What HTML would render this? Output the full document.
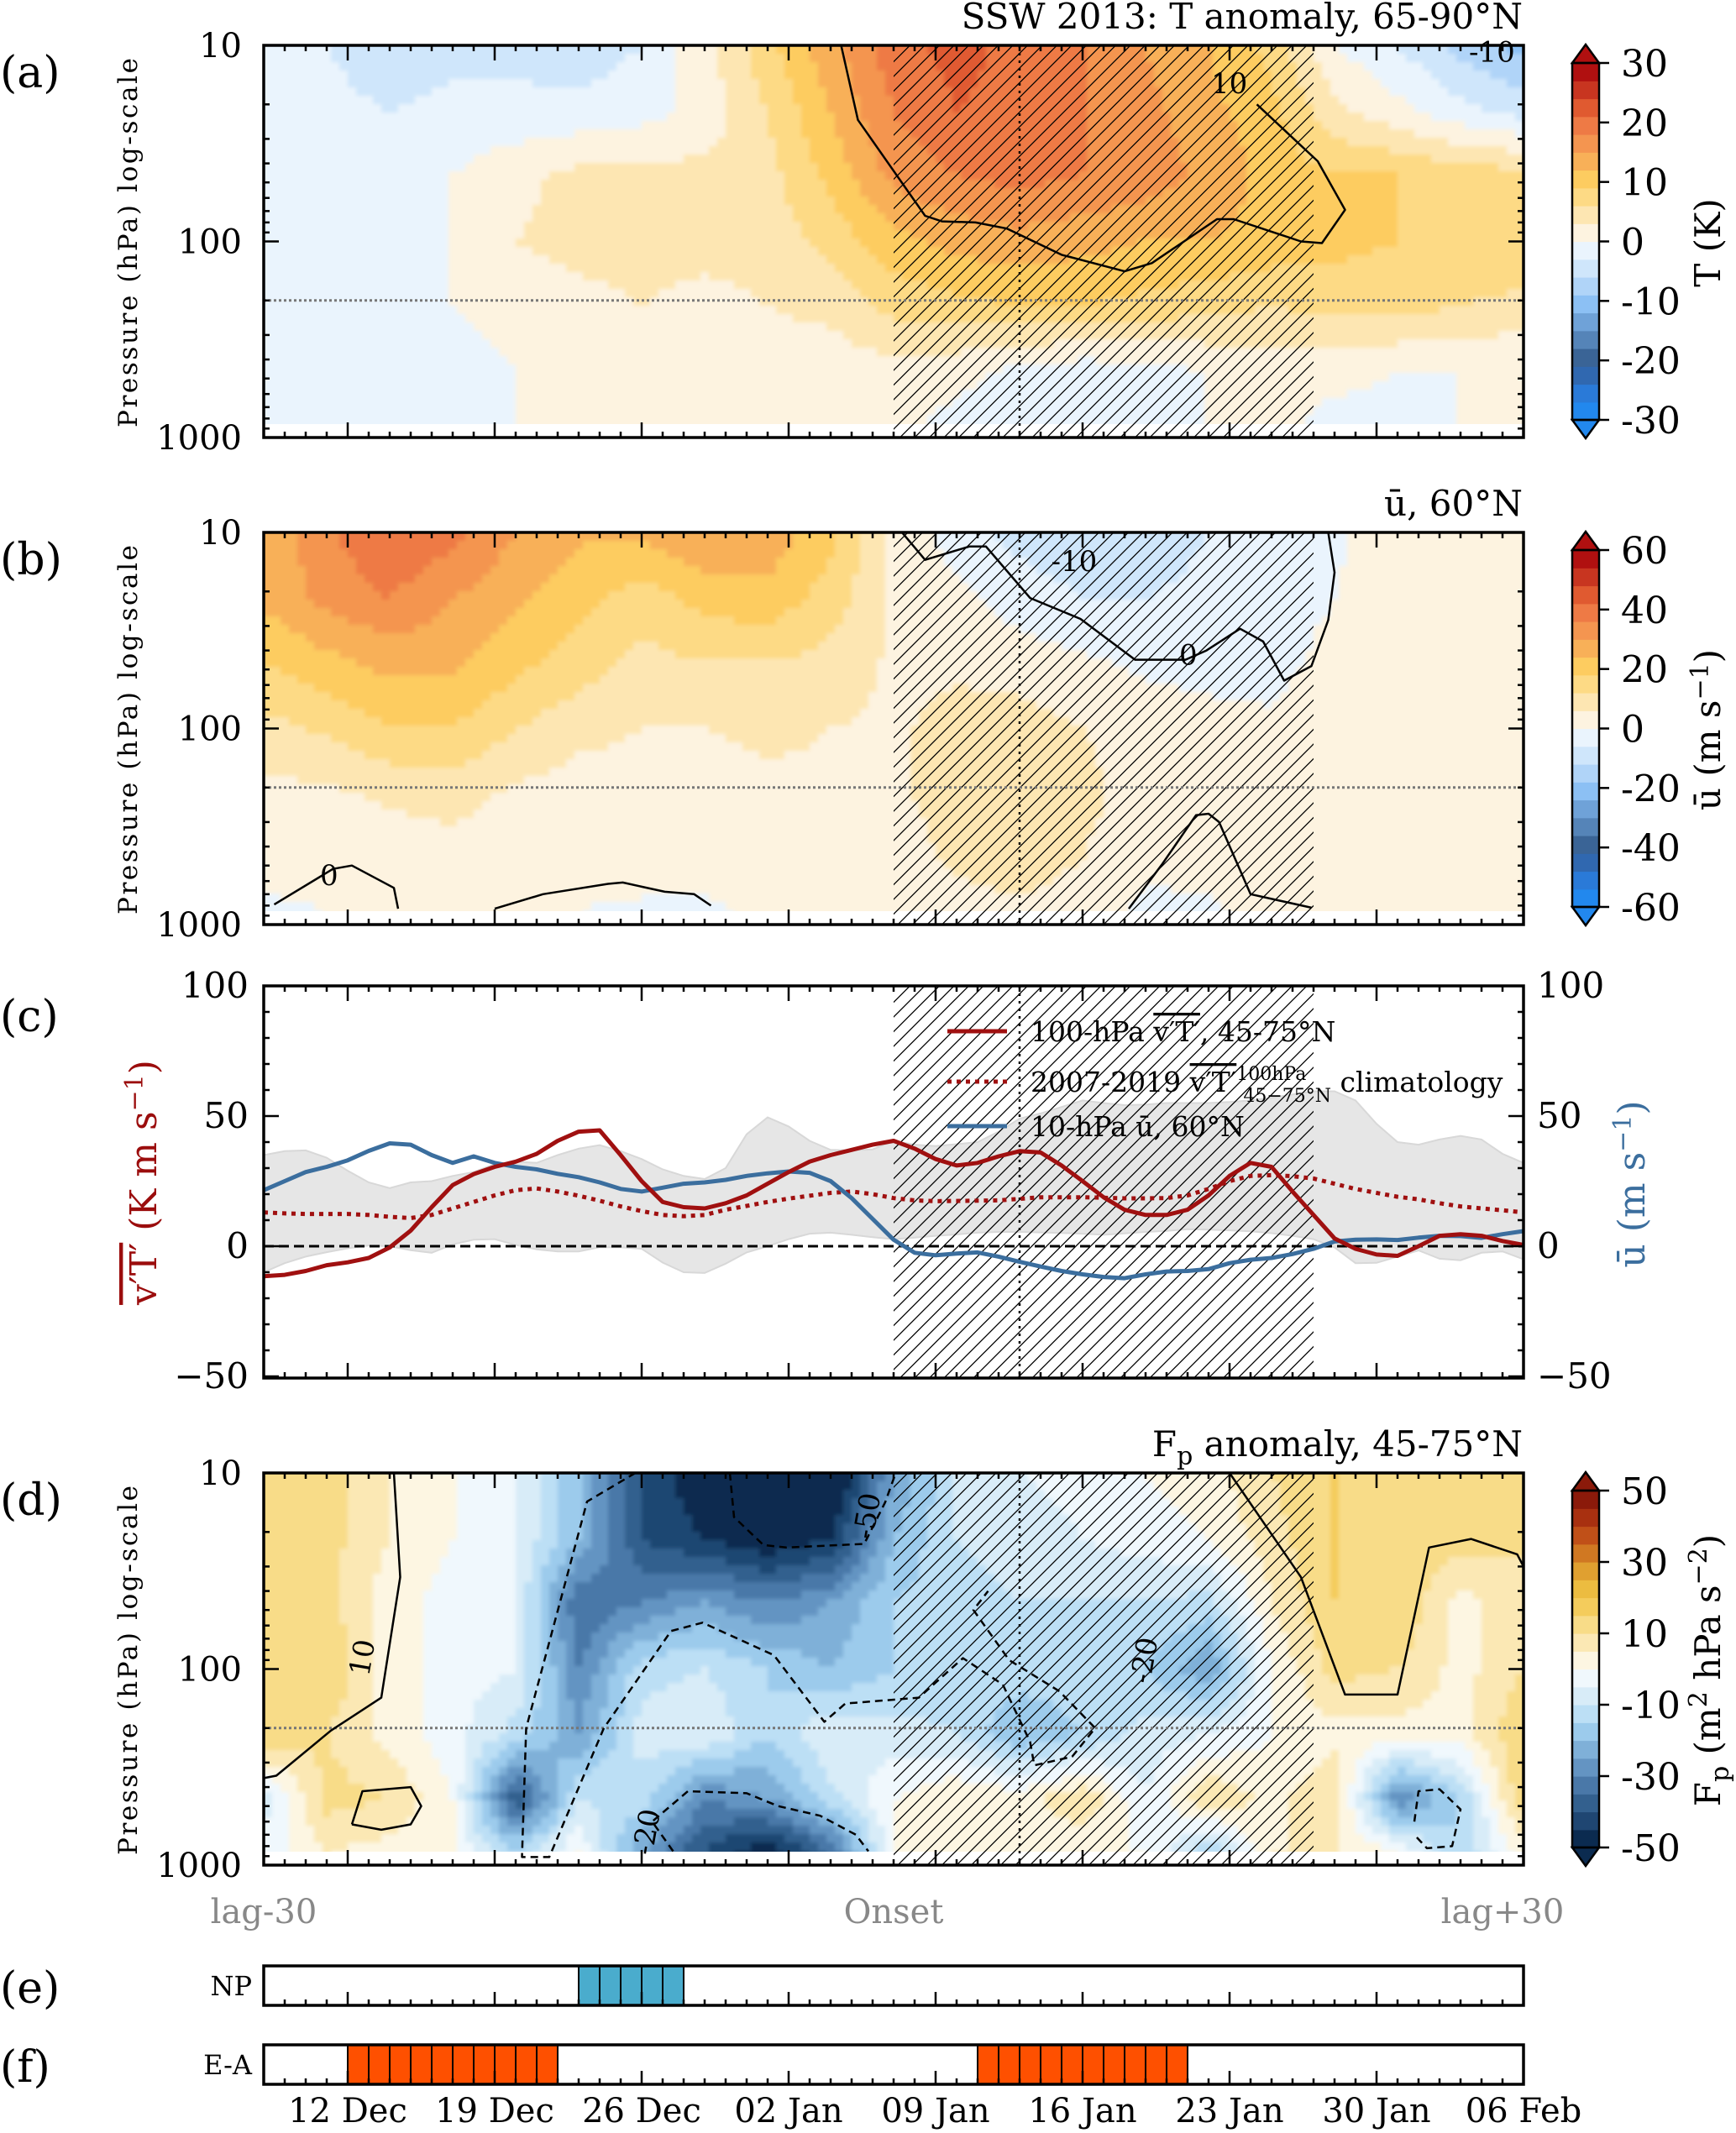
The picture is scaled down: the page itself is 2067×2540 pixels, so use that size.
<!DOCTYPE html>
<html>
<head>
<meta charset="utf-8">
<style>
html,body{margin:0;padding:0;background:#fff;}
svg{display:block;}
text{font-family:"DejaVu Serif","Liberation Serif",serif;}
</style>
</head>
<body>
<svg id="chart" xmlns="http://www.w3.org/2000/svg" width="2067" height="2540" viewBox="0 0 2067 2540">
  <defs>
    <pattern id="hatch" patternUnits="userSpaceOnUse" width="17.5" height="17.5">
      <path d="M-4.4,4.4 L4.4,-4.4 M0,17.5 L17.5,0 M13.1,21.9 L21.9,13.1" stroke="#000" stroke-width="1.3"/>
    </pattern>
    <filter id="blurA" filterUnits="userSpaceOnUse" x="0" y="0" width="2067" height="2540"><feGaussianBlur stdDeviation="2.5"/></filter>
    <filter id="blurD" filterUnits="userSpaceOnUse" x="0" y="0" width="2067" height="2540"><feGaussianBlur stdDeviation="2.5"/></filter>
  </defs>
</svg>
<script>
// ---------------- DATA ----------------
const fieldLags = [-30,-27,-24,-21,-18,-15,-12,-9,-6,-3,0,3,6,9,12,15,18,21,24,27,30];
const fieldLevels = [10,22,46,100,215,460,850];
// Panel (a) T anomaly (K), rows = fieldLevels
const tRow10  = [-2,-3,-5,-4,-4,-5,-3,2,8,14,20,22,20,18,15,12,8,0,-3,-7,-10];
const tRow22  = [-1,-2,-3,-2,-2,-2,-1,1,6,12,18,21,20,18,16,13,10,4,1,-2,-4];
const tRow46  = [-1,-1,-1,0,2,4,4,4,5,10,16,18,19,18,17,14,11,9,9,8,7];
const tRow100 = [0,-1,-1,0,3,4,4,4,4,7,11,13,14,13,12,12,11,10,9,9,9];
const tRow215 = [-1,-1,-1,0,1,2,3,2,3,4,7,8,9,9,8,7,6,7,7,6,5];
const tRow460 = [-1,-1,-1,-1,0,0,1,1,1,1,2,1,-1,-2,-1,0,1,1,0,0,0];
const tRow850 = [-1,-1,-1,-1,0,1,0,1,0,0,1,-1,-1,-1,-1,0,1,-1,-1,0,1];
// Panel (b) zonal wind u (m/s)
const uRow10  = [25,35,42,38,30,25,25,30,28,20,5,-3,-8,-10,-8,-6,-4,-1,3,3,3];
const uRow22  = [25,32,36,30,25,20,15,20,22,15,5,2,-3,-6,-6,-5,-3,0,3,3,3];
const uRow46  = [18,22,26,25,20,15,10,12,12,10,5,5,3,1,-1,-2,-2,2,3,4,4];
const uRow100 = [10,13,18,18,12,8,6,6,7,6,5,8,9,6,3,2,1,4,5,5,5];
const uRow215 = [4,5,7,8,5,3,3,4,5,5,5,9,10,8,3,2,3,5,6,5,4];
const uRow460 = [2,3,3,4,3,2,3,3,4,3,3,7,9,6,1,2,4,5,5,3,2];
const uRow850 = [-1,0,1,1,1,0,-1,-1,1,1,2,4,5,3,-1,-1,2,3,3,2,0];
// Panel (d) Fp anomaly
const fRow10  = [15,12,5,0,-5,-20,-40,-50,-55,-55,-25,-10,-5,-3,0,3,10,15,12,12,10];
const fRow22  = [15,12,5,0,-5,-20,-40,-45,-50,-45,-20,-10,-8,-5,-3,0,8,15,12,12,10];
const fRow46  = [15,12,2,-2,-5,-35,-30,-25,-30,-25,-15,-12,-10,-10,-10,-12,5,15,15,3,10];
const fRow100 = [15,15,2,-2,-5,-30,-12,-10,-15,-20,-15,-12,-12,-12,-15,-25,0,12,10,3,10];
const fRow215 = [15,10,3,-3,-12,-25,-8,-5,-15,-5,-8,-10,-20,-15,-8,-5,0,3,3,3,15];
const fRow460 = [-8,12,10,0,-40,-10,-12,-30,-25,-12,0,5,3,10,-5,10,3,10,-30,-15,15];
const fRow850 = [-3,5,3,0,-15,0,-25,-40,-50,-35,0,3,0,0,0,-15,5,5,0,-15,3];
// Panel (c) daily series, lag -30..30
const dayLags = [];
for (let d=-30; d<=30; d++) dayLags.push(d);
const vtSeries = [-11.5,-11,-9.5,-7.3,-6.2,-4.5,-0.5,6,15,23.5,27.7,30.5,32.5,35.5,40.5,44,44.5,35,25,17,15,14.5,16.5,19.5,24,28.5,32.5,35,37,39,40.5,37.5,33.5,31,32,34.5,36.5,36,31,25,18.8,14,12,12,14,19.5,27,32,30.5,21,12,3,-1,-3.2,-3.7,0,4,4.6,4,2,0.5];
const uSeries = [21.5,25,28.5,30.5,33,36.6,39.5,39,35,32,34.5,32,30.5,29.5,27.8,26.5,24.5,22,21,22.5,24,24.5,25.5,27,28,28.7,28.2,25,18.5,10.5,2.5,-2.5,-3.5,-2.8,-2.4,-4,-6,-7.8,-9.5,-10.8,-11.8,-12.3,-10.8,-9.7,-9.5,-8.8,-6.5,-5.2,-4.5,-3,-1,1.8,2.5,2.6,2.4,3.3,4,3.9,3.2,4.6,5.8];
const climSeries = [13,12.6,12.4,12.4,12.4,12,11.3,10.8,12,14.5,17,19.5,21.5,22.2,21,19.4,17.5,15.3,13.5,12,11.5,12,14,15.5,17,18.3,19.4,20.5,21,20,18.5,17.6,17.3,17.4,17.5,17.6,18.2,18.8,18.8,18.8,18.6,18.4,18.4,18.5,19.5,22,25,27,27.3,26.9,26,24,22,20.5,19,18,16.5,15.3,14.5,13.8,13];
const climUpper = [35,36.5,36.8,34,29,24.5,22.3,24.5,25,27,28.5,31.5,32.5,32,35,37.5,38.8,36.5,33.5,29.5,27,25.8,30,43,49.5,46,40.5,37,36.8,37.2,40.5,39,38.5,39.2,40,44,49,51,53.5,56,55,54.2,54.4,55,55,55,55.4,56,57,58.3,59.5,59.5,56,47,40,39,41,42.4,41,35.5,32];
const climLower = [-10,-6.5,-4,-2.3,-0.8,0.3,0,-1.5,-2.5,0.7,2.5,2.7,0.5,-1.2,-2,-2,-0.4,-0.4,-1,-6.3,-10,-10.3,-6.7,-2.4,0,2.7,4.8,5.2,4.4,3.5,2.7,3.3,4,4.5,5.2,5.5,5.5,5.3,5.1,4.8,4.4,4.9,5.5,5.9,6.5,6.4,6.1,5.7,5,4,2.7,-0.5,-6.5,-6.4,-4,-1.6,-4.8,-5.4,-2.5,-2,-5];
// Panels (e)/(f) regime days
const npDays = [-15,-14,-13,-12,-11];
const eaDays = [-26,-25,-24,-23,-22,-21,-20,-19,-18,-17,4,5,6,7,8,9,10,11,12,13];
const dateTickLags = [-26,-19,-12,-5,2,9,16,23,30];
const dateTickLabels = ['12 Dec','19 Dec','26 Dec','02 Jan','09 Jan','16 Jan','23 Jan','30 Jan','06 Feb'];
const eventStart = 0, eventEnd = 20, centralLag = 6;
const cbTicksT = [30,20,10,0,-10,-20,-30];
const cbTicksU = [60,40,20,0,-20,-40,-60];
const cbTicksF = [50,30,10,-10,-30,-50];
const cTicks = [100,50,0,-50];

// ---------------- HELPERS ----------------
const NS='http://www.w3.org/2000/svg';
const svg=document.getElementById('chart');
function mk(tag, attrs, name, parent){
  const e=document.createElementNS(NS,tag);
  for(const k in attrs) e.setAttribute(k,attrs[k]);
  
  
  (parent||svg).appendChild(e);
  return e;
}
function txt(str, attrs, name, parent){ const t=mk('text',attrs,name,parent); t.textContent=str; return t; }

const L=314, R=1814, H=467;
const X = lag => L + 25*(lag+30);
const Yp = (p, top) => top + (Math.log10(p)-1)/2*H;
const tops = {a:54, b:634, c:1174, d:1754};
const Yc = v => 1484 - v*3.1;

const tBands = ['#2288ee','#2a7ad8','#3068b0','#3a6496','#5584b8','#6fa2d8','#8cc0f4','#b0d4f8','#cfe6fb','#eaf4fd','#fdf3e0','#fde6b2','#fdda85','#fdcc60','#f8b058','#f49550','#ee7a45','#e05a30','#c83520','#b01010'];
const fBands = ['#0b2b50','#1f4672','#33608e','#4a78a8','#6494c2','#7fb0d8','#9ccbec','#bcdff5','#d8ecf8','#f0f8fd','#fdf6e2','#fbe8b4','#f8dc88','#f4cc5c','#ecbc40','#e0a030','#d07822','#c05018','#a83010','#8b1a0a'];
function bandColor(bands, vmax, v){
  const n=bands.length, step=2*vmax/n;
  let i=Math.floor((v+vmax)/step);
  if(i<0)i=0; if(i>n-1)i=n-1;
  return bands[i];
}
function interp1(arr, v){
  if(v<=arr[0]) return [0,0];
  if(v>=arr[arr.length-1]) return [arr.length-2,1];
  for(let i=0;i<arr.length-1;i++){ if(v<=arr[i+1]) return [i,(v-arr[i])/(arr[i+1]-arr[i])]; }
  return [arr.length-2,1];
}
function sampleField(rows, lag, lp){
  const logs=fieldLevels.map(p=>Math.log10(p));
  const [ci,cf]=interp1(fieldLags,lag);
  const [ri,rf]=interp1(logs,lp);
  const a=rows[ri][ci]*(1-cf)+rows[ri][ci+1]*cf;
  const b=rows[ri+1][ci]*(1-cf)+rows[ri+1][ci+1]*cf;
  return a*(1-rf)+b*rf;
}

function drawField(rows, top, bands, vmax, filt, name){
  const clipId='clip-'+name;
  const cp=mk('clipPath',{id:clipId},'clip-'+name);
  mk('rect',{x:L,y:top,width:R-L,height:451},'clip-rect',cp);
  const outer=mk('g',{'clip-path':'url(#'+clipId+')'},name);
  const g=mk('g',{filter:'url(#'+filt+')'},name+'-cells',outer);
  const cw=10, chh=10;
  for(let y=top-10; y<top+460; y+=chh){
    const lp=1+((y+chh/2)-top)/H*2;
    let runStart=L-10, runColor=null;
    for(let x=L-10; x<=R+10; x+=cw){
      const lag=(x+cw/2-L)/25-30;
      const c=bandColor(bands,vmax,sampleField(rows,lag,lp));
      if(runColor===null){runColor=c;runStart=x;}
      else if(c!==runColor){
        mk('rect',{x:runStart,y:y,width:x-runStart+0.6,height:chh+0.6,fill:runColor},'heatmap-cell',g);
        runColor=c; runStart=x;
      }
    }
    mk('rect',{x:runStart,y:y,width:R+20-runStart,height:chh+0.6,fill:runColor},'heatmap-cell',g);
  }
}

function hatchAndRefs(top, logPanel){
  mk('rect',{x:X(eventStart),y:top,width:X(eventEnd)-X(eventStart),height:H,fill:'url(#hatch)'},'event-hatch');
  mk('line',{x1:X(centralLag),y1:top,x2:X(centralLag),y2:top+H,stroke:'#000','stroke-width':2.5,'stroke-dasharray':'3,6'},'central-date-line');
  if(logPanel) mk('line',{x1:L,y1:Yp(200,top),x2:R,y2:Yp(200,top),stroke:'#777','stroke-width':3,'stroke-dasharray':'3,3'},'tropopause-200hpa-line');
}

function frame(top){
  mk('rect',{x:L,y:top,width:R-L,height:H,fill:'none',stroke:'#000','stroke-width':3.5},'plot-frame');
  for(let d=-30; d<=30; d++){
    const major=dateTickLags.includes(d);
    const len=major?18:7;
    mk('line',{x1:X(d),y1:top+H,x2:X(d),y2:top+H-len,stroke:'#000','stroke-width':2.5},'x-tick');
    mk('line',{x1:X(d),y1:top,x2:X(d),y2:top+len,stroke:'#000','stroke-width':2.5},'x-tick-top');
  }
}
function logTicks(top){
  for(let dec=10; dec<=1000; dec*=10){
    for(let m=1;m<=9;m++){
      const p=dec*m; if(p>1000) break;
      const major=(m===1), len=major?18:7;
      const y=Yp(p,top);
      mk('line',{x1:L,y1:y,x2:L+len,y2:y,stroke:'#000','stroke-width':2.5},'y-tick');
      mk('line',{x1:R,y1:y,x2:R-len,y2:y,stroke:'#000','stroke-width':2.5},'y-tick-right');
    }
  }
  [10,100,1000].forEach(p=>{
    txt(String(p),{x:288,y:Yp(p,top)+14,'font-size':40,'text-anchor':'end'},'y-tick-label');
  });
  txt('Pressure (hPa) log-scale',{x:0,y:0,transform:'translate(163,'+(top+235)+') rotate(-90)','font-size':31,'text-anchor':'middle',textLength:440,'lengthAdjust':'spacing'},'y-axis-title');
}
function contour(pts, top, dashed, name){
  const d=pts.map((q,i)=>(i?'L':'M')+X(q[0]).toFixed(1)+','+Yp(q[1],top).toFixed(1)).join(' ');
  mk('path',{d:d,fill:'none',stroke:'#000','stroke-width':2.5,'stroke-dasharray':dashed?'9,6':'none','stroke-linejoin':'round'},name);
}
function colorbar(top, bands, vmax, ticks, label, name){
  const x0=1872,w=32,y0=top+21,y1=top+446,n=bands.length,bh=(y1-y0)/n;
  const g=mk('g',{},name);
  bands.forEach((c,i)=>{
    mk('rect',{x:x0,y:y1-(i+1)*bh,width:w,height:bh+0.6,fill:c},'colorbar-band',g);
  });
  mk('path',{d:`M${x0},${y0} L${x0+w/2},${top-1} L${x0+w},${y0} Z`,fill:bands[n-1],stroke:'#000','stroke-width':2.5},'colorbar-extend-max',g);
  mk('path',{d:`M${x0},${y1} L${x0+w/2},${top+468} L${x0+w},${y1} Z`,fill:bands[0],stroke:'#000','stroke-width':2.5},'colorbar-extend-min',g);
  mk('rect',{x:x0,y:y0,width:w,height:y1-y0,fill:'none',stroke:'#000','stroke-width':2.5},'colorbar-outline',g);
  ticks.forEach(t=>{
    const y=y0+(vmax-t)/(2*vmax)*(y1-y0);
    mk('line',{x1:x0+w,y1:y,x2:x0+w+12,y2:y,stroke:'#000','stroke-width':2.5},'colorbar-tick',g);
    txt(String(t),{x:1930,y:y+16,'font-size':44},'colorbar-tick-label',g);
  });
  const lt=mk('text',{x:0,y:0,transform:`translate(2048,${top+235}) rotate(-90)`,'font-size':42,'text-anchor':'middle'},'colorbar-title',g);
  lt.innerHTML=label;
}

// ---------------- PANEL A ----------------
const ta=tops.a;
drawField([tRow10,tRow22,tRow46,tRow100,tRow215,tRow460,tRow850],ta,tBands,30,'blurA','t-anomaly-field');
hatchAndRefs(ta,true);
contour([[-2.5,10],[-1.7,24],[1.5,74],[2.3,79],[3.9,80],[5.4,86],[8,117],[11,142],[12.3,129],[15.4,77],[16.2,77],[19.4,100],[20.4,102],[21.5,69],[20.2,39],[17.3,20]],ta,false,'t-contour-10');
txt('10',{x:X(16)-22,y:Yp(15.3,ta)+14,'font-size':34},'t-contour-label');
txt('-10',{x:X(28.2)-20,y:Yp(11,ta)+10,'font-size':34},'t-contour-label');
frame(ta); logTicks(ta);
txt('SSW 2013: T anomaly, 65-90°N',{x:1813,y:34,'font-size':42,'text-anchor':'end'},'panel-a-title');
txt('(a)',{x:0,y:104,'font-size':52},'panel-a-label');
colorbar(ta,tBands,30,cbTicksT,'T (K)','t-colorbar');

// ---------------- PANEL B ----------------
const tb=tops.b;
drawField([uRow10,uRow22,uRow46,uRow100,uRow215,uRow460,uRow850],tb,tBands,60,'blurA','u-wind-field');
hatchAndRefs(tb,true);
contour([[0.4,10],[1.5,13.8],[3.6,11.8],[4.4,11.8],[6.5,21.6],[8.9,27.6],[11.5,44.6],[13.9,44.6],[14.9,40],[16.5,31],[17.6,36],[18.6,57],[19.9,48],[20.7,28],[21,16],[20.7,10]],tb,false,'u-contour-0-upper');
contour([[11.2,830],[12.8,490],[14.4,277],[15,272],[15.5,300],[17,700],[19.9,820]],tb,false,'u-contour-0-lower');
contour([[-29.5,790],[-26.7,520],[-25.8,500],[-23.8,650],[-23.6,830]],tb,false,'u-contour-0-left');
contour([[-19,830],[-16.7,700],[-13.6,620],[-12.9,610],[-10.9,680],[-9.5,700],[-8.7,800]],tb,false,'u-contour-0-mid');
txt('-10',{x:X(7.5),y:Yp(14,tb)+12,'font-size':34},'u-contour-label');
txt('0',{x:X(14)-10,y:Yp(42,tb)+12,'font-size':34},'u-contour-label');
txt('0',{x:X(-27)-8,y:Yp(560,tb)+12,'font-size':34},'u-contour-label');
frame(tb); logTicks(tb);
txt('ū, 60°N',{x:1813,y:614,'font-size':42,'text-anchor':'end'},'panel-b-title');
txt('(b)',{x:0,y:684,'font-size':52},'panel-b-label');
colorbar(tb,tBands,60,cbTicksU,'ū (m s<tspan dy="-14" font-size="30">−1</tspan><tspan dy="14">)</tspan>','u-colorbar');

// ---------------- PANEL C ----------------
const tc=tops.c;
const bandPath = dayLags.map((d,i)=>(i?'L':'M')+X(d)+','+Yc(climUpper[i]).toFixed(1)).join(' ') + ' ' +
  dayLags.slice().reverse().map((d,j)=>'L'+X(d)+','+Yc(climLower[dayLags.length-1-j]).toFixed(1)).join(' ')+' Z';
mk('path',{d:bandPath,fill:'#e6e6e6',stroke:'#d8d8d8','stroke-width':2},'climatology-spread-band');
mk('line',{x1:L,y1:Yc(0),x2:R,y2:Yc(0),stroke:'#000','stroke-width':3,'stroke-dasharray':'12,6'},'zero-line');
hatchAndRefs(tc,false);
function linePath(vals){ return dayLags.map((d,i)=>(i?'L':'M')+X(d)+','+Yc(vals[i]).toFixed(1)).join(' '); }
mk('path',{d:linePath(climSeries),fill:'none',stroke:'#a01010','stroke-width':5,'stroke-dasharray':'5,6'},'vt-climatology-line');
mk('path',{d:linePath(uSeries),fill:'none',stroke:'#3b6e9e','stroke-width':5,'stroke-linejoin':'round'},'u10-line');
mk('path',{d:linePath(vtSeries),fill:'none',stroke:'#a01010','stroke-width':5,'stroke-linejoin':'round'},'vt100-line');
frame(tc);
for(let v=-50; v<=100; v+=10){
  const major=(v%50===0), len=major?18:7;
  mk('line',{x1:L,y1:Yc(v),x2:L+len,y2:Yc(v),stroke:'#000','stroke-width':2.5},'y-tick');
  mk('line',{x1:R,y1:Yc(v),x2:R-len,y2:Yc(v),stroke:'#000','stroke-width':2.5},'y-tick-right');
}
cTicks.forEach(v=>{
  const s = v<0 ? '−'+Math.abs(v) : String(v);
  txt(s,{x:296,y:Yc(v)+14,'font-size':42,'text-anchor':'end'},'y-tick-label-left');
  txt(s,{x:1830,y:Yc(v)+14,'font-size':42},'y-tick-label-right');
});
const yl=mk('text',{x:0,y:0,transform:'translate(186,1408) rotate(-90)','font-size':44,'text-anchor':'middle',fill:'#9b0d0d'},'y-axis-title-left');
yl.innerHTML='<tspan text-decoration="overline">v′T′</tspan> (K m s<tspan dy="-16" font-size="30">−1</tspan><tspan dy="16">)</tspan>';
const yr=mk('text',{x:0,y:0,transform:'translate(1958,1410) rotate(-90)','font-size':44,'text-anchor':'middle',fill:'#3b6e9e'},'y-axis-title-right');
yr.innerHTML='ū (m s<tspan dy="-16" font-size="30">−1</tspan><tspan dy="16">)</tspan>';
const lg=mk('g',{},'legend');
mk('line',{x1:1128,y1:1228,x2:1199,y2:1228,stroke:'#a01010','stroke-width':5},'legend-swatch-vt',lg);
mk('line',{x1:1128,y1:1288,x2:1199,y2:1288,stroke:'#a01010','stroke-width':5,'stroke-dasharray':'5,6'},'legend-swatch-clim',lg);
mk('line',{x1:1128,y1:1341,x2:1199,y2:1341,stroke:'#3b6e9e','stroke-width':5},'legend-swatch-u',lg);
const l1=mk('text',{x:1227,y:1240,'font-size':33},'legend-entry-vt',lg);
l1.innerHTML='100-hPa <tspan text-decoration="overline">v′T′</tspan>, 45-75°N';
const l2=mk('text',{x:1227,y:1300,'font-size':33},'legend-entry-clim',lg);
l2.innerHTML='2007-2019 <tspan text-decoration="overline">v′T′</tspan><tspan dy="-14" font-size="22">100hPa</tspan><tspan dx="-75" dy="26" font-size="22">45−75°N</tspan><tspan dy="-12"> climatology</tspan>';
const l3=mk('text',{x:1227,y:1353,'font-size':33},'legend-entry-u',lg);
l3.innerHTML='10-hPa ū, 60°N';
txt('(c)',{x:0,y:1228,'font-size':52},'panel-c-label');

// ---------------- PANEL D ----------------
const td=tops.d;
drawField([fRow10,fRow22,fRow46,fRow100,fRow215,fRow460,fRow850],td,fBands,50,'blurD','fp-anomaly-field');
hatchAndRefs(td,true);
contour([[-7.8,10],[-7.6,16.8],[-6.2,23.3],[-5.1,24],[-1.4,23],[-0.4,14.1],[0.1,10]],td,true,'fp-contour-neg50');
contour([[-23.8,10],[-23.5,34],[-24.4,140],[-26.8,206],[-29.4,350],[-30,360]],td,false,'fp-contour-10-left');
contour([[16,10],[19.4,34],[21.5,135],[24,135],[25.5,24],[27.5,21.7],[29.7,26],[30,30]],td,false,'fp-contour-10-right');
contour([[-12.3,10],[-14.6,14],[-17.5,200],[-17.7,910],[-16.4,910],[-13.8,200],[-10.6,64],[-9.1,58],[-5.7,85],[-3.3,186],[-2.3,150],[1.2,140],[3.3,88],[5.2,120],[6.5,235],[6.7,310],[8.5,280],[9.6,200],[7.9,130],[5.5,90],[3.8,50],[4.5,40]],td,true,'fp-contour-neg20');
contour([[-10.5,850],[-11.5,600],[-9.8,420],[-7,430],[-5.5,500],[-3.5,560],[-1.8,700],[-1.2,850]],td,true,'fp-contour-neg20-bottom');
contour([[24.8,600],[25,420],[26,410],[27,520],[26.6,800],[25.4,820],[24.8,700]],td,true,'fp-contour-neg20-right');
contour([[-25.8,620],[-25.3,420],[-23,400],[-22.5,500],[-23,620],[-24.4,660],[-25.8,620]],td,false,'fp-contour-10-blob');
txt('10',{x:X(-25),y:Yp(110,td),'font-size':34,transform:`rotate(-80 ${X(-25)} ${Yp(110,td)})`},'fp-contour-label');
txt('-20',{x:X(12.2),y:Yp(120,td),'font-size':34,transform:`rotate(-80 ${X(12.2)} ${Yp(120,td)})`},'fp-contour-label');
txt('-20',{x:X(-11.5),y:Yp(900,td),'font-size':34,transform:`rotate(-80 ${X(-11.5)} ${Yp(900,td)})`},'fp-contour-label');
txt('-50',{x:X(-1),y:Yp(22,td),'font-size':34,transform:`rotate(-80 ${X(-1)} ${Yp(22,td)})`},'fp-contour-label');
frame(td); logTicks(td);
const tdT=mk('text',{x:1813,y:1734,'font-size':42,'text-anchor':'end'},'panel-d-title');
tdT.innerHTML='F<tspan dy="10" font-size="30">p</tspan><tspan dy="-10"> anomaly, 45-75°N</tspan>';
txt('(d)',{x:0,y:1804,'font-size':52},'panel-d-label');
colorbar(td,fBands,50,cbTicksF,'F<tspan dy="10" font-size="30">p</tspan><tspan dy="-10"> (m</tspan><tspan dy="-16" font-size="30">2</tspan><tspan dy="16"> hPa s</tspan><tspan dy="-16" font-size="30">−2</tspan><tspan dy="16">)</tspan>','fp-colorbar');

txt('lag-30',{x:X(-30),y:2290,'font-size':40,'text-anchor':'middle',fill:'#888'},'lag-minus-30-label');
txt('Onset',{x:X(0),y:2290,'font-size':40,'text-anchor':'middle',fill:'#888'},'onset-label');
txt('lag+30',{x:X(30)-25,y:2290,'font-size':40,'text-anchor':'middle',fill:'#888'},'lag-plus-30-label');

// ---------------- PANELS E/F ----------------
function regimeStrip(top, days, color, label, panel, name){
  const h=47;
  const g=mk('g',{},name);
  days.forEach(d=>{
    mk('rect',{x:X(d),y:top,width:25,height:h,fill:color,stroke:'#000','stroke-width':2},'regime-day-cell',g);
  });
  for(let d=-30; d<=30; d++){
    const len=dateTickLags.includes(d)?16:7;
    mk('line',{x1:X(d),y1:top+h,x2:X(d),y2:top+h-len,stroke:'#000','stroke-width':2.5},'x-tick',g);
  }
  mk('rect',{x:L,y:top,width:R-L,height:h,fill:'none',stroke:'#000','stroke-width':3.5},'strip-frame',g);
  txt(label,{x:300,y:top+35,'font-size':32,'text-anchor':'end'},'strip-label',g);
  txt(panel,{x:0,y:top+44,'font-size':52},'panel-label',g);
}
regimeStrip(2341, npDays, '#4aaccd', 'NP', '(e)', 'np-regime-strip');
regimeStrip(2435, eaDays, '#fe5000', 'E-A', '(f)', 'ea-regime-strip');
dateTickLags.forEach((d,i)=>{
  txt(dateTickLabels[i],{x:X(d),y:2527,'font-size':40,'text-anchor':'middle'},'x-tick-label');
});
</script>
</body>
</html>
